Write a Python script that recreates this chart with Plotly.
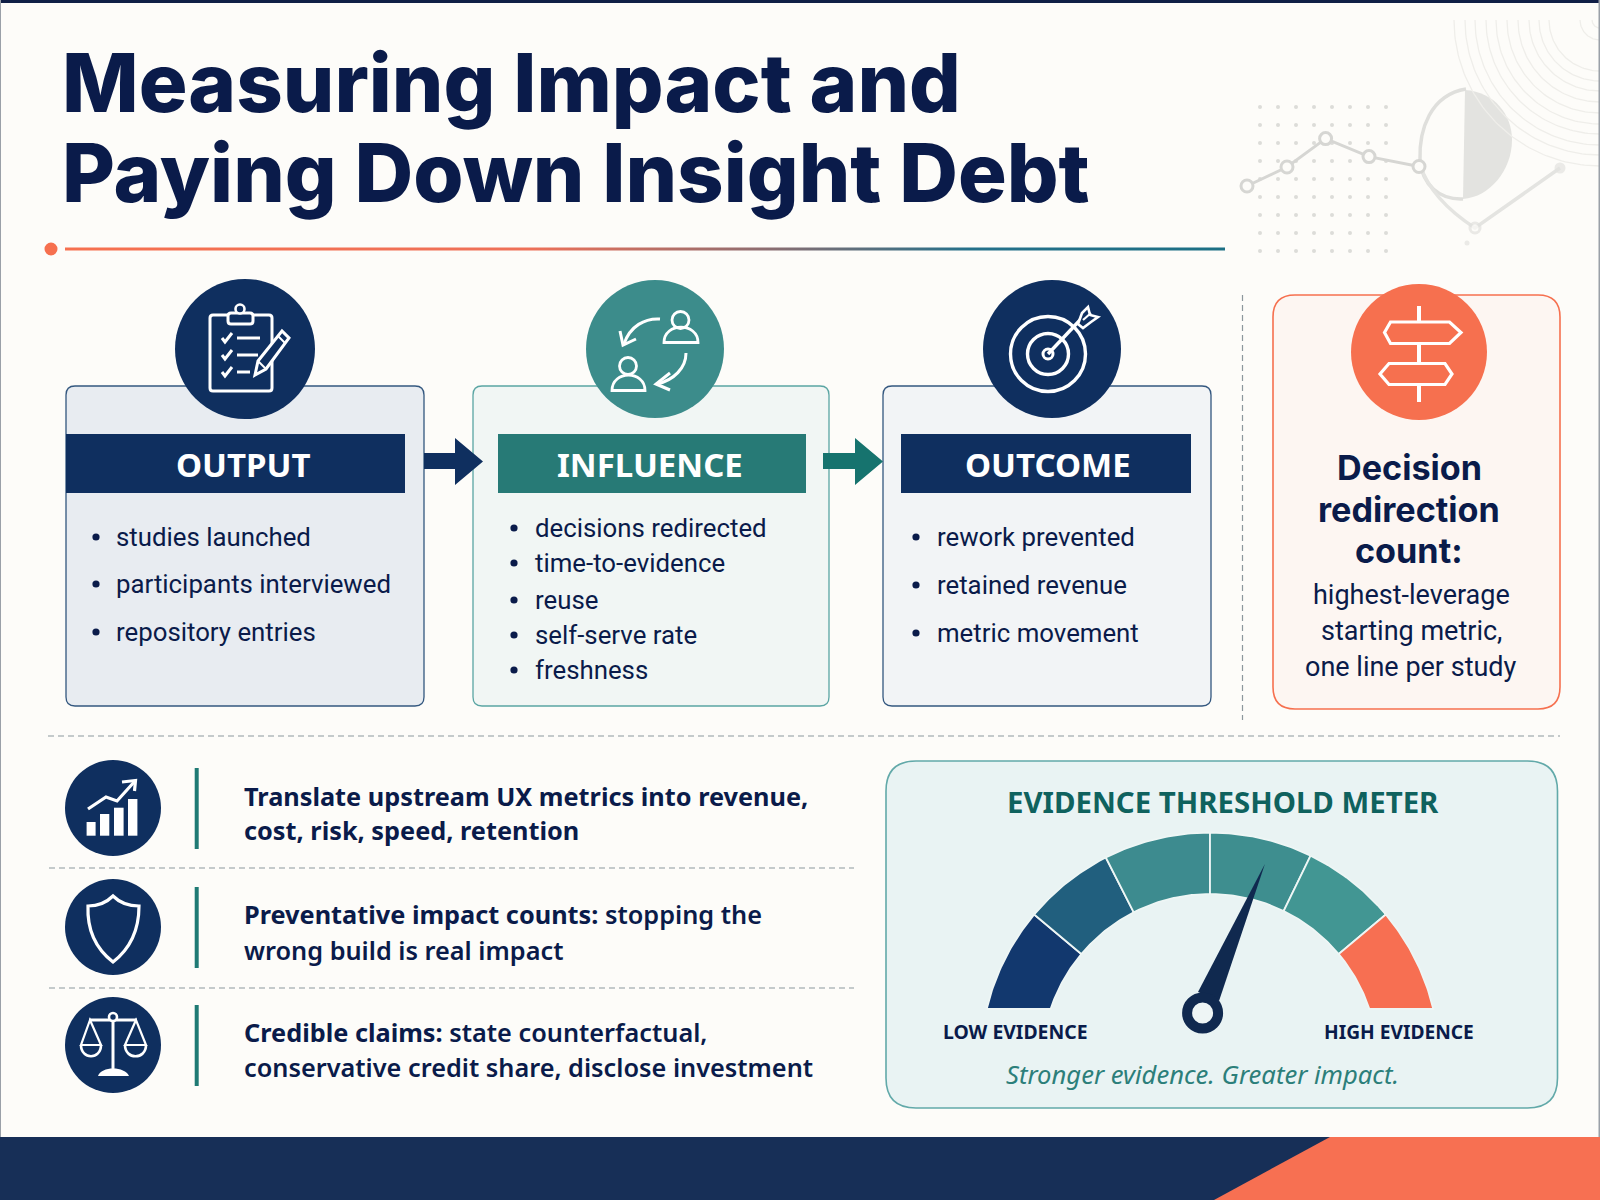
import numpy as np
import plotly.graph_objects as go

# ---- content ----
TITLE_LINES = ["Measuring Impact and", "Paying Down Insight Debt"]
CARD_TITLES = ["OUTPUT", "INFLUENCE", "OUTCOME"]
OUTPUT_ITEMS = ["studies launched", "participants interviewed", "repository entries"]
INFLUENCE_ITEMS = ["decisions redirected", "time-to-evidence", "reuse", "self-serve rate", "freshness"]
OUTCOME_ITEMS = ["rework prevented", "retained revenue", "metric movement"]
DECISION_HEAD = ["Decision", "redirection", "count:"]
DECISION_BODY = ["highest-leverage", "starting metric,", "one line per study"]
ROW_LINES = [
    ["<b>Translate upstream UX metrics into revenue,</b>", "<b>cost, risk, speed, retention</b>"],
    ["<b>Preventative impact counts:</b> stopping the", "wrong build is real impact"],
    ["<b>Credible claims:</b> state counterfactual,", "conservative credit share, disclose investment"],
]
METER_TITLE = "EVIDENCE THRESHOLD METER"
METER_LOW = "LOW EVIDENCE"
METER_HIGH = "HIGH EVIDENCE"
METER_NOTE = "Stronger evidence. Greater impact."

# gauge: segment edges in degrees, left to right, and where the needle points
GAUGE_EDGES = [180, 140, 117, 90, 64, 40, 0]
GAUGE_COLORS = ["#12386e", "#215f7e", "#3d8b8f", "#3e8e8f", "#429693", "#f76f52"]
NEEDLE_ANGLE = 67.3

# decorative line chart behind the header
SPARK_X = [1247, 1287, 1325.6, 1369, 1419]
SPARK_Y = [186, 167, 138.6, 156.6, 166.5]
ARC_RADII = [146, 135, 125, 114, 104, 93, 82, 71, 61, 51, 20, 8]

NAVY = "#0f2f5f"
INK = "#0a1b4a"
TEAL = "#3c8c8b"
CORAL = "#f6704f"
BG = "#fdfcf9"
SANS = "Noto Sans"
BODY = "Roboto"

shapes = []
notes = []


def rrect(x0, y0, x1, y1, r):
    return (f"M{x0+r},{y0} L{x1-r},{y0} Q{x1},{y0} {x1},{y0+r} L{x1},{y1-r} Q{x1},{y1} {x1-r},{y1} "
            f"L{x0+r},{y1} Q{x0},{y1} {x0},{y1-r} L{x0},{y0+r} Q{x0},{y0} {x0+r},{y0} Z")


def add_path(path, fill=None, line=None, width=0, layer="above"):
    shapes.append(dict(type="path", path=path, xref="x", yref="y", layer=layer,
                       fillcolor=fill if fill else "rgba(0,0,0,0)",
                       line=dict(color=line if line else "rgba(0,0,0,0)", width=width)))


def add_rect(x0, y0, x1, y1, fill):
    shapes.append(dict(type="rect", x0=x0, y0=y0, x1=x1, y1=y1, xref="x", yref="y",
                       fillcolor=fill, line=dict(width=0)))


def add_circle(cx, cy, r, fill=None, line=None, width=0):
    shapes.append(dict(type="circle", x0=cx-r, y0=cy-r, x1=cx+r, y1=cy+r, xref="x", yref="y",
                       fillcolor=fill if fill else "rgba(0,0,0,0)",
                       line=dict(color=line if line else "rgba(0,0,0,0)", width=width)))


def add_dash(x0, y0, x1, y1):
    shapes.append(dict(type="line", x0=x0, y0=y0, x1=x1, y1=y1, xref="x", yref="y",
                       line=dict(color="#8c979d", width=1.2, dash="6px,4px")))


def text(x, y, s, size, color=INK, anchor="left", weight=400, family=SANS, italic=False):
    # annotations sit a little right of their anchor, pull left-aligned ones back
    if anchor == "left":
        x -= 2.5
    notes.append(dict(x=x, y=y, text=s, xref="x", yref="y", showarrow=False,
                      xanchor=anchor, yanchor="middle", align=anchor,
                      font=dict(family=family, size=size, color=color, weight=weight,
                                style="italic" if italic else "normal")))


def white(path, width=3):
    add_path(path, line="#ffffff", width=width)


fig = go.Figure()

# ---- page frame ----
add_rect(0, 0, 1600, 3, "#101f46")
add_rect(0, 0, 1, 1200, "#9aa0a8")
add_rect(1598.5, 0, 1600, 1200, "#9aa0a8")
add_rect(0, 1137, 1600, 1200, "#172f57")
add_path("M1330,1137 L1600,1137 L1600,1200 L1214,1200 Z", fill="#f77052")

# ---- header decoration ----
for r in ARC_RADII:
    t = np.radians(np.linspace(0, 90, 60))
    fig.add_trace(go.Scatter(x=1600 - r*np.cos(t), y=20 + r*np.sin(t),
                             mode="lines", line=dict(color="#efeeea", width=1.3), hoverinfo="skip"))
dx, dy = np.meshgrid(np.arange(8), np.arange(9))
fig.add_trace(go.Scatter(x=(1260 + 18*dx).ravel(), y=(107 + 18*dy).ravel(), mode="markers",
                         marker=dict(size=4, color="#dcdcd9"), hoverinfo="skip"))
add_path("M1465,90 C1495,92 1512,115 1512,140 C1512,170 1490,197 1463,199 Z", fill="#e3e3e0", layer="below")
add_path("M1466,89 C1430,95 1419,130 1420,160 C1422,185 1440,200 1463,199", line="#dfdfdc", width=3.5, layer="below")
add_path("M1420,165 C1430,195 1455,215 1475,228 L1560,168", line="#e4e4e1", width=3.5, layer="below")
fig.add_trace(go.Scatter(x=SPARK_X, y=SPARK_Y, mode="lines+markers",
                         line=dict(color="#d6d6d3", width=3),
                         marker=dict(size=12, color=BG, line=dict(color="#d6d6d3", width=3)), hoverinfo="skip"))
fig.add_trace(go.Scatter(x=[1475, 1560, 1467], y=[228, 168, 243], mode="markers",
                         marker=dict(size=[10, 11, 5], color=[BG, "#e2e2df", "#e2e2df"],
                                     line=dict(color="#e2e2df", width=[3, 0, 0])), hoverinfo="skip"))

# ---- title ----
text(62, 82, TITLE_LINES[0], 81.3, INK, weight=800, family="Inter")
text(62, 172, TITLE_LINES[1], 81.3, INK, weight=800, family="Inter")
add_circle(51, 249, 6.5, fill=CORAL)
fig.add_trace(go.Scatter(x=[65, 1225, 1225, 65, 65], y=[247.6, 247.6, 250.4, 250.4, 247.6], mode="none", fill="toself",
                         fillgradient=dict(type="horizontal",
                                           colorscale=[[0, CORAL], [0.4, "#ee7058"], [0.6, "#8f6d70"], [0.78, "#24708a"], [1, "#1c6f84"]]),
                         hoverinfo="skip"))

# ---- three cards ----
cards = [
    dict(x0=66, x1=424, fill="#e8ecf1", edge="#33577f", bar=(66, 405), col=NAVY, cx=245, r=70,
         label=243, items=OUTPUT_ITEMS, dot=96, tx=116, ys=[537, 584, 632]),
    dict(x0=473, x1=829, fill="#f1f6f4", edge="#5aa5a3", bar=(498, 806), col="#277a76", cx=655, r=69,
         label=650, items=INFLUENCE_ITEMS, dot=514, tx=535.5, ys=[528, 563, 600, 635, 670]),
    dict(x0=883, x1=1211, fill="#f2f4f6", edge="#33577f", bar=(901, 1191), col=NAVY, cx=1052, r=69,
         label=1048, items=OUTCOME_ITEMS, dot=916, tx=937, ys=[537, 585, 633]),
]
for c, title in zip(cards, CARD_TITLES):
    add_path(rrect(c["x0"], 386, c["x1"], 706, 9), fill=c["fill"], line=c["edge"], width=1.3)
    add_rect(c["bar"][0], 434, c["bar"][1], 493, c["col"])
    circle_col = TEAL if c["col"] != NAVY else NAVY
    add_circle(c["cx"], 349, c["r"], fill=circle_col)
    text(c["label"], 464, title, 33, "#ffffff", anchor="center", weight=700)
    for y, item in zip(c["ys"], c["items"]):
        add_circle(c["dot"], y, 3.6, fill=INK)
        text(c["tx"], y, item, 25.8, INK, family=BODY)

# arrows between the cards
add_path("M424,453 L455,453 L455,438 L483,461.5 L455,485 L455,469 L424,469 Z", fill=NAVY)
add_path("M823,453 L855,453 L855,438 L883,461.5 L855,485 L855,469 L823,469 Z", fill="#16736e")

# clipboard icon
white(rrect(210, 315, 272, 391, 3), 3)
add_path(rrect(228, 313, 253, 324, 3), fill=NAVY, line="#ffffff", width=3)
add_circle(240, 309, 4.5, fill=NAVY, line="#ffffff", width=2.6)
for y, x1 in zip([338, 355, 372], [260, 258, 250]):
    white(f"M222,{y} L225,{y+4} L232,{y-5}", 3)
    white(f"M237,{y} L{x1},{y}", 3)
add_path("M255,375 L258,361 L282,331 L289,338 L266,369 Z", fill=NAVY, line="#ffffff", width=3)
white("M258,361 L266,369", 2)
white("M278,336 L285,343", 2)

# people icon
add_circle(680.5, 320, 8.5, line="#ffffff", width=2.8)
white("M664,342.5 C664,322 698,322 698,342.5 Z", 2.8)
add_circle(628, 366, 8.5, line="#ffffff", width=2.8)
white("M612,390.5 C612,370 645,370 645,390.5 Z", 2.8)
white("M660,319 C645,318 630,326 624,344", 3)
white("M620,331 L623,345 L636,339", 3)
white("M686,353 C686,368 674,380 657,384", 3)
white("M670,373 L656,384 L670,390", 3)

# target icon
add_circle(1048, 354, 37.5, line="#ffffff", width=3.4)
add_circle(1048, 354, 20.5, line="#ffffff", width=3.4)
add_circle(1048, 354, 5, line="#ffffff", width=3)
add_path("M1048,354 L1081,319", line="#ffffff", width=3.4)
add_path("M1078,324 L1082,313 L1088,307 L1090,315 L1098,317 L1091,322 L1083,328 Z", fill=NAVY, line="#ffffff", width=2.6)
white("M1083,320 L1091,313", 2.2)

# ---- decision card ----
add_dash(1242.5, 295, 1242.5, 720)
add_path(rrect(1273, 295, 1560, 709, 22), fill="#fdf6f2", line=CORAL, width=1.6)
add_circle(1419, 352, 68, fill=CORAL)
white("M1419,306 L1419,402", 4)
add_path("M1390.5,322 L1449.5,322 L1461,332.5 L1449.5,343.5 L1390.5,343.5 L1384.5,332.5 Z", fill=CORAL, line="#ffffff", width=3.2)
add_path("M1389,363.5 L1445,363.5 L1452,374 L1445,384.5 L1389,384.5 L1380,374 Z", fill=CORAL, line="#ffffff", width=3.2)
for y, s in zip([467.5, 509, 550.5], DECISION_HEAD):
    text(1409, y, s, 34.2, INK, anchor="center", weight=700, family="Inter")
for y, s in zip([595, 631, 667], DECISION_BODY):
    text(1411, y, s, 27, INK, anchor="center", family=BODY)

# ---- lower left rows ----
add_dash(48, 736, 1560, 736)
add_dash(49, 868, 854, 868)
add_dash(49, 988, 854, 988)
row_centers = [808, 927, 1045]
row_text_y = [(795.5, 830), (913.5, 949.5), (1032, 1067)]
for cy, ys, lines in zip(row_centers, row_text_y, ROW_LINES):
    add_circle(113, cy, 48, fill=NAVY)
    add_rect(194.7, cy - 40, 198.7, cy + 41, "#1f7a74")
    for y, s in zip(ys, lines):
        text(244, y, s, 25.3, INK, weight=600)

# trend icon
for x0, x1, top in zip([86.6, 100, 114, 128], [95.6, 109.3, 123.6, 137.4], [822, 814, 807.7, 799]):
    add_rect(x0, top, x1, 835.7, "#ffffff")
white("M88,809 L106,797 L117,801 L135,781", 3.2)
white("M122,782 L135.5,780.5 L134.5,791", 3.2)

# shield icon
white("M113,896 C106,903 97,906 88,906 C87,930 95,948 113,962 C131,948 139,930 139,906 C129,906 120,903 113,896 Z", 3.2)

# scales icon
white("M113,1018 L113,1070", 3)
white("M89,1020 L137,1020", 3)
add_circle(113, 1017, 4, fill=NAVY, line="#ffffff", width=2.6)
white("M90,1020 L81,1045 L101,1045 Z", 2.2)
white("M81,1045 C81,1060 101,1060 101,1045", 2.6)
white("M136,1020 L125,1045 L146,1045 Z", 2.2)
white("M125,1045 C125,1060 146,1060 146,1045", 2.6)
add_path("M98,1076 C101,1066 125,1066 129,1076 Z", fill="#ffffff")

# ---- evidence meter ----
add_path(rrect(886, 761, 1557.5, 1108, 30), fill="#e9f3f3", line="#62a9a9", width=1.6, layer="below")
text(1222.5, 802, METER_TITLE, 29.4, "#0f625e", anchor="center", weight=700)
text(1015, 1031.5, METER_LOW, 19.4, INK, anchor="center", weight=700)
text(1399, 1031.5, METER_HIGH, 19.2, INK, anchor="center", weight=700)
text(1202.5, 1074, METER_NOTE, 25.6, "#2c7f7a", anchor="center", italic=True)

# gauge arc is cut flat at the bottom, so each radius has its own end angle
gx, gy, r_out, r_in, cut_y = 1210, 1062, 229.5, 168, 1009
end_out = np.degrees(np.arcsin((gy - cut_y)/r_out))
end_in = np.degrees(np.arcsin((gy - cut_y)/r_in))
for a0, a1, col in zip(GAUGE_EDGES[:-1], GAUGE_EDGES[1:], GAUGE_COLORS):
    outer = np.radians(np.linspace(np.clip(a0, end_out, 180 - end_out), np.clip(a1, end_out, 180 - end_out), 40))
    inner = np.radians(np.linspace(np.clip(a1, end_in, 180 - end_in), np.clip(a0, end_in, 180 - end_in), 40))
    xs = np.r_[gx + r_out*np.cos(outer), gx + r_in*np.cos(inner)]
    ys = np.r_[gy - r_out*np.sin(outer), gy - r_in*np.sin(inner)]
    fig.add_trace(go.Scatter(x=np.r_[xs, xs[0]], y=np.r_[ys, ys[0]], mode="lines", fill="toself",
                             fillcolor=col, line=dict(color="#eef6f5", width=1.8), hoverinfo="skip"))

# needle
px_, py_ = 1202.6, 1013
ang = np.radians(NEEDLE_ANGLE)
tip_x, tip_y = px_ + 161.5*np.cos(ang), py_ - 161.5*np.sin(ang)
add_path(f"M{tip_x},{tip_y} L1219,1001 L1198,992 Z", fill="#10294f")
add_circle(px_, py_, 15.5, fill="#eef5f5", line="#10294f", width=10)

fig.update_layout(
    width=1600, height=1200, margin=dict(l=0, r=0, t=0, b=0), autosize=False,
    paper_bgcolor=BG, plot_bgcolor=BG, showlegend=False, shapes=shapes, annotations=notes,
    xaxis=dict(range=[0, 1600], visible=False, fixedrange=True),
    yaxis=dict(range=[1200, 0], visible=False, fixedrange=True),
)

fig.write_html("out.html", config=dict(displayModeBar=False),
               post_script="document.body.style.margin='0';document.documentElement.style.overflow='hidden';")
